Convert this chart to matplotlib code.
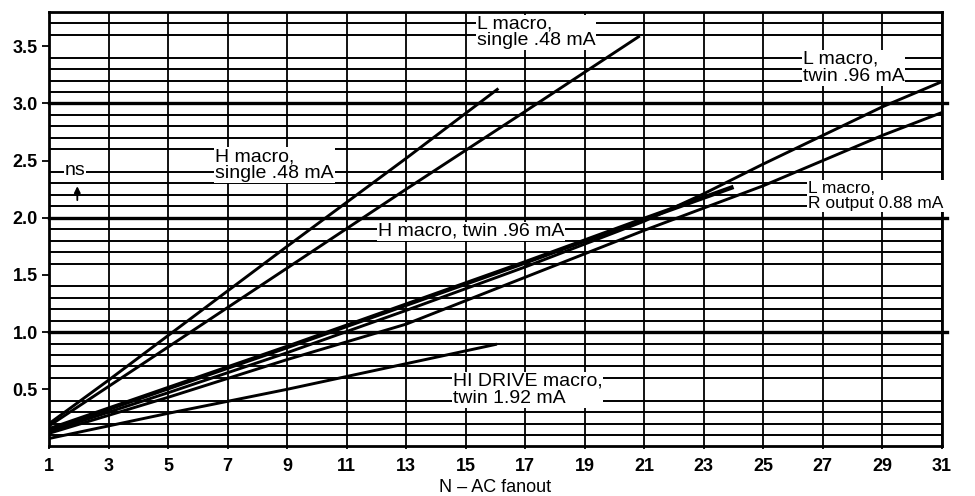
import numpy as np
import matplotlib.pyplot as plt

plt.rcParams['font.family'] = ['Liberation Sans', 'DejaVu Sans']

# delay (ns) against AC fanout for each macro type
n_h_single = [1, 3, 5, 9, 13, 16.1]
ns_h_single = [0.20, 0.58, 0.97, 1.75, 2.52, 3.13]

n_l_single = [1, 5, 9, 13, 17, 20.85]
ns_l_single = [0.18, 0.87, 1.56, 2.25, 2.93, 3.59]

n_h_twin = [1, 5, 9, 13, 17, 21, 24]
ns_h_twin = [0.15, 0.51, 0.87, 1.24, 1.61, 1.99, 2.27]

n_l_twin = [1, 5, 9, 13, 17, 21, 23, 25, 27, 29, 31]
ns_l_twin = [0.13, 0.47, 0.82, 1.19, 1.57, 1.97, 2.21, 2.47, 2.72, 2.97, 3.19]

n_l_rout = [1, 5, 9, 13, 17, 21, 25, 29, 31]
ns_l_rout = [0.115, 0.43, 0.76, 1.07, 1.48, 1.89, 2.28, 2.72, 2.92]

n_hi_drive = [1, 5, 9, 16.05]
ns_hi_drive = [0.07, 0.29, 0.50, 0.895]

x_ticks = list(range(1, 32, 2))
y_ticks = [0.5, 1.0, 1.5, 2.0, 2.5, 3.0, 3.5]

fig = plt.figure(figsize=(9.75, 4.96), dpi=100)
ax = fig.add_axes([0.0503, 0.0998, 0.9157, 0.8762])

ax.set_xlim(1, 31)
ax.set_ylim(0, 3.8)

# chart paper grid
ax.set_yticks(np.arange(0.1, 3.75, 0.1), minor=True)
ax.grid(which='minor', axis='y', color='black', lw=1.4, zorder=1)
ax.set_xticks(x_ticks)
ax.grid(which='major', axis='x', color='black', lw=1.3, zorder=1)
for yv in [1.0, 2.0, 3.0]:
    ax.axhline(yv, color='black', lw=2.4, zorder=1, clip_on=False, xmax=1.006)

ax.set_yticks(y_ticks)
ax.set_yticklabels(['%.1f' % v for v in y_ticks])
ax.set_xticklabels([str(v) for v in x_ticks])
ax.tick_params(axis='y', which='major', length=5, width=1.3, labelsize=13, pad=3)
ax.tick_params(axis='y', which='minor', length=0)
ax.tick_params(axis='x', length=2, width=1.3, labelsize=13, pad=6)
for lab in ax.get_xticklabels() + ax.get_yticklabels():
    lab.set_fontweight('bold')
for sp in ax.spines.values():
    sp.set_linewidth(2.0)

ax.set_xlabel('N – AC fanout', fontsize=13, labelpad=3)

# curves
kw = dict(color='black', lw=2.1, zorder=3, solid_capstyle='butt')
ax.plot(n_h_single, ns_h_single, **kw)
ax.plot(n_l_single, ns_l_single, **kw)
ax.plot(n_l_twin, ns_l_twin, **kw)
ax.plot(n_l_rout, ns_l_rout, **kw)
ax.plot(n_hi_drive, ns_hi_drive, **kw)
ax.plot(n_h_twin, ns_h_twin, color='black', lw=3.2, zorder=3, solid_capstyle='butt')

# curve labels
box = dict(facecolor='white', edgecolor='none', pad=0.6)
tkw = dict(fontsize=14, ha='left', va='center', zorder=4, bbox=box, linespacing=1.0)
ax.text(15.38, 3.62, 'L macro,\nsingle .48 mA', **tkw)
ax.text(26.33, 3.31, 'L macro,\ntwin .96 mA', **tkw)
ax.text(6.58, 2.46, 'H macro,\nsingle .48 mA', **tkw)
ax.text(12.05, 1.88, 'H macro, twin .96 mA', **tkw)
ax.text(14.57, 0.495, 'HI DRIVE macro,\ntwin 1.92 mA', **tkw)
tkw['fontsize'] = 12.5
ax.text(26.5, 2.19, 'L macro,\nR output 0.88 mA', **tkw)

# unit marker
ax.text(1.87, 2.41, 'ns', fontsize=14, ha='center', va='center', zorder=4,
        bbox=dict(facecolor='white', edgecolor='none', pad=0.3))
ax.annotate('', xy=(1.95, 2.30), xytext=(1.95, 2.13),
            arrowprops=dict(arrowstyle='-|>', color='black', lw=1.3, mutation_scale=9),
            zorder=4)

fig.savefig('out.png', dpi=100)
